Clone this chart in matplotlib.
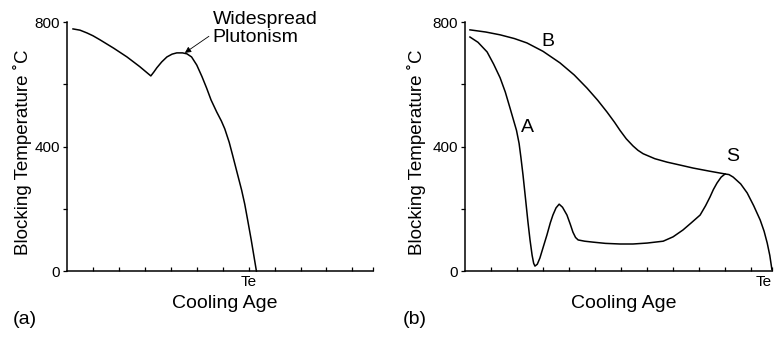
import matplotlib.pyplot as plt

plt.rcParams['font.family'] = ['Liberation Sans', 'DejaVu Sans']

# (a) single cooling path
a_x = [0.23, 0.5, 0.77, 1.0, 1.27, 1.8, 2.31, 2.8, 3.23, 3.35, 3.46, 3.65, 3.85, 4.05, 4.23,
       4.45, 4.62, 4.8, 5.0, 5.2, 5.38, 5.55, 5.77, 5.95, 6.08, 6.25, 6.38, 6.55, 6.73,
       6.85, 6.96, 7.1, 7.23, 7.3]
a_y = [778, 774, 765, 756, 743, 716, 688, 657, 627, 640, 653, 672, 688, 697, 701,
       701, 698, 688, 662, 625, 588, 550, 511, 482, 457, 414, 373, 318, 260,
       215, 165, 100, 35, 0]

# (b) curve B
b_x = [0.19, 0.8, 1.35, 1.9, 2.38, 3.0, 3.65, 4.2, 4.69, 5.1, 5.46, 5.75, 5.96, 6.2,
       6.46, 6.65, 6.85, 7.3, 7.77, 8.3, 8.77, 9.4, 10.0]
b_y = [775, 768, 759, 747, 733, 706, 669, 630, 588, 549, 511, 478, 452, 425,
       402, 388, 377, 361, 350, 340, 331, 321, 312]

# (b) curve A
ba_x = [0.19, 0.5, 0.85, 1.1, 1.35, 1.55, 1.73, 1.9, 1.98, 2.08, 2.15, 2.23, 2.33, 2.42,
        2.5, 2.58, 2.64, 2.69, 2.78, 2.88, 3.0, 3.15, 3.28, 3.38, 3.5, 3.62, 3.75, 3.92,
        4.05, 4.15, 4.25, 4.35, 4.6, 4.92, 5.4, 5.96, 6.46, 7.0, 7.62, 8.0, 8.38,
        8.7, 9.04, 9.25, 9.42, 9.55, 9.69, 9.85, 10.0, 10.15, 10.31, 10.6, 10.85,
        11.1, 11.35, 11.5, 11.62, 11.72, 11.8]
ba_y = [752, 735, 704, 665, 621, 575, 524, 475, 452, 410, 365, 309, 230, 158,
        100, 51, 25, 16, 22, 42, 75, 116, 155, 180, 203, 215, 205, 180,
        150, 125, 108, 100, 96, 93, 89, 87, 87, 90, 96, 110, 132,
        155, 180, 210, 238, 262, 283, 302, 312, 310, 302, 280, 251,
        210, 164, 128, 90, 50, 5]

y_ticks = [0, 200, 400, 600, 800]
y_labels = ['0', '', '400', '', '800']
x_end = 11.8
te_left = 7

fig = plt.figure(figsize=(7.75, 3.38), dpi=100)
ax1 = fig.add_axes([0.0865, 0.198, 0.395, 0.7367])
ax2 = fig.add_axes([0.6, 0.198, 0.396, 0.7367])

for ax in (ax1, ax2):
    ax.set_xlim(0, x_end)
    ax.set_ylim(0, 800)
    for s in ('top', 'right'):
        ax.spines[s].set_visible(False)
    for s in ('left', 'bottom'):
        ax.spines[s].set_linewidth(1.1)
    ax.set_yticks(y_ticks)
    ax.set_yticklabels(y_labels, fontsize=11)
    ax.tick_params(axis='y', direction='out', length=3, width=0.9, pad=2)
    ax.tick_params(axis='x', direction='in', length=3, width=0.9, pad=3, labelsize=11)
    ax.set_xlabel('Cooling Age', fontsize=14)
    ax.set_ylabel('Blocking Temperature \u02daC', fontsize=13.5)

ax1.xaxis.set_label_coords(0.516, -0.098)
ax2.xaxis.set_label_coords(0.518, -0.098)
ax1.yaxis.set_label_coords(-0.116, 0.478)
ax2.yaxis.set_label_coords(-0.127, 0.479)

# panel (a)
ticks1 = list(range(1, 12)) + [x_end]
ax1.set_xticks(ticks1)
ax1.set_xticklabels(['Te' if t == te_left else '' for t in ticks1])
ax1.plot(a_x, a_y, color='black', lw=1.1, clip_on=False)
ax1.annotate('Widespread\nPlutonism', xy=(4.54, 701), xytext=(5.62, 780),
             fontsize=14, ha='left', va='center', linespacing=1.1,
             arrowprops=dict(arrowstyle='-|>', color='black', lw=0.6,
                             mutation_scale=9, shrinkA=1, shrinkB=0,
                             relpos=(0, 0.35)))

# panel (b)
ticks2 = list(range(1, 12)) + [x_end]
ax2.set_xticks(ticks2)
ax2.set_xticklabels(['' for t in ticks2[:-1]] + ['Te'])
ax2.get_xticklabels()[-1].set_horizontalalignment('right')
ax2.plot(b_x, b_y, color='black', lw=1.1, clip_on=False)
ax2.plot(ba_x, ba_y, color='black', lw=1.1, clip_on=False)
ax2.text(3.19, 736, 'B', fontsize=14, ha='center', va='center')
ax2.text(2.42, 460, 'A', fontsize=14, ha='center', va='center')
ax2.text(10.3, 367, 'S', fontsize=14, ha='center', va='center')

fig.text(13 / 775, 1 - 320 / 338, '(a)', fontsize=14, ha='left', va='center')
fig.text(403 / 775, 1 - 320 / 338, '(b)', fontsize=14, ha='left', va='center')

fig.savefig('out.png', dpi=100)
